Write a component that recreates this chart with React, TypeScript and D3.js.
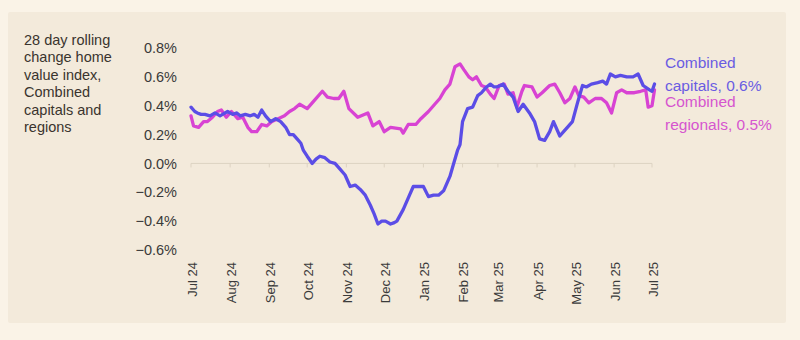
import React from "react";
import * as d3 from "d3";

const monthTicks = ["2024-07-01","2024-08-01","2024-09-01","2024-10-01","2024-11-01","2024-12-01","2025-01-01","2025-02-01","2025-03-01","2025-04-01","2025-05-01","2025-06-01","2025-07-01"];
const yTicks = [-0.6, -0.4, -0.2, 0, 0.2, 0.4, 0.6, 0.8];
const titleLines = ["28 day rolling", "change home", "value index,", "Combined", "capitals and", "regions"];

const capDates = ["2024-07-01","2024-07-04","2024-07-06","2024-07-09","2024-07-12","2024-07-16","2024-07-20","2024-07-24","2024-07-28","2024-07-30","2024-08-03","2024-08-06","2024-08-09","2024-08-13","2024-08-17","2024-08-20","2024-08-23","2024-08-26","2024-08-29","2024-09-02","2024-09-06","2024-09-10","2024-09-14","2024-09-17","2024-09-20","2024-09-23","2024-09-26","2024-09-28","2024-10-01","2024-10-05","2024-10-08","2024-10-11","2024-10-15","2024-10-19","2024-10-23","2024-10-27","2024-10-31","2024-11-04","2024-11-08","2024-11-12","2024-11-16","2024-11-20","2024-11-23","2024-11-26","2024-11-29","2024-12-02","2024-12-06","2024-12-09","2024-12-11","2024-12-16","2024-12-21","2024-12-24","2024-12-28","2025-01-01","2025-01-05","2025-01-09","2025-01-13","2025-01-17","2025-01-22","2025-01-24","2025-01-28","2025-01-30","2025-02-01","2025-02-05","2025-02-09","2025-02-13","2025-02-16","2025-02-20","2025-02-23","2025-02-26","2025-02-28","2025-03-03","2025-03-05","2025-03-09","2025-03-13","2025-03-17","2025-03-21","2025-03-26","2025-03-30","2025-04-03","2025-04-07","2025-04-11","2025-04-14","2025-04-19","2025-04-22","2025-04-25","2025-04-29","2025-05-03","2025-05-07","2025-05-10","2025-05-14","2025-05-19","2025-05-23","2025-05-26","2025-05-29","2025-06-02","2025-06-06","2025-06-11","2025-06-16","2025-06-20","2025-06-24","2025-06-29","2025-07-01","2025-07-03"];
const capValues = [0.39,0.36,0.35,0.34,0.34,0.33,0.35,0.33,0.35,0.36,0.34,0.35,0.33,0.34,0.33,0.34,0.32,0.37,0.33,0.29,0.31,0.29,0.25,0.2,0.2,0.17,0.14,0.09,0.05,0.0,0.03,0.05,0.04,0.01,0.0,-0.04,-0.08,-0.16,-0.15,-0.18,-0.22,-0.29,-0.35,-0.42,-0.4,-0.4,-0.42,-0.41,-0.4,-0.32,-0.22,-0.16,-0.16,-0.16,-0.23,-0.22,-0.22,-0.19,-0.09,-0.03,0.09,0.13,0.29,0.38,0.39,0.47,0.49,0.53,0.55,0.53,0.53,0.54,0.55,0.5,0.46,0.36,0.41,0.35,0.29,0.17,0.16,0.22,0.29,0.19,0.22,0.25,0.29,0.42,0.54,0.53,0.55,0.56,0.57,0.55,0.62,0.6,0.61,0.6,0.6,0.62,0.54,0.51,0.5,0.55];

const regDates = ["2024-07-01","2024-07-03","2024-07-07","2024-07-11","2024-07-14","2024-07-18","2024-07-22","2024-07-25","2024-07-29","2024-08-02","2024-08-07","2024-08-11","2024-08-15","2024-08-18","2024-08-22","2024-08-26","2024-08-30","2024-09-03","2024-09-08","2024-09-13","2024-09-17","2024-09-21","2024-09-25","2024-10-01","2024-10-06","2024-10-13","2024-10-17","2024-10-22","2024-10-26","2024-10-30","2024-11-03","2024-11-10","2024-11-18","2024-11-22","2024-11-27","2024-12-01","2024-12-06","2024-12-14","2024-12-16","2024-12-20","2024-12-26","2024-12-30","2025-01-05","2025-01-10","2025-01-14","2025-01-18","2025-01-22","2025-01-26","2025-01-30","2025-02-02","2025-02-06","2025-02-09","2025-02-12","2025-02-16","2025-02-19","2025-02-23","2025-02-26","2025-03-02","2025-03-06","2025-03-09","2025-03-13","2025-03-16","2025-03-20","2025-03-22","2025-03-28","2025-04-01","2025-04-05","2025-04-11","2025-04-15","2025-04-19","2025-04-23","2025-04-27","2025-05-01","2025-05-04","2025-05-08","2025-05-12","2025-05-17","2025-05-22","2025-05-26","2025-05-30","2025-06-03","2025-06-07","2025-06-11","2025-06-17","2025-06-22","2025-06-26","2025-06-28","2025-07-01","2025-07-03"];
const regValues = [0.33,0.26,0.25,0.29,0.29,0.32,0.36,0.37,0.32,0.36,0.31,0.32,0.25,0.22,0.22,0.27,0.26,0.29,0.31,0.33,0.36,0.38,0.41,0.38,0.43,0.5,0.46,0.45,0.45,0.5,0.38,0.32,0.35,0.26,0.29,0.22,0.25,0.24,0.21,0.27,0.27,0.31,0.36,0.41,0.45,0.51,0.55,0.67,0.69,0.65,0.6,0.58,0.6,0.54,0.53,0.48,0.45,0.54,0.55,0.48,0.49,0.39,0.5,0.54,0.53,0.46,0.49,0.54,0.55,0.49,0.42,0.45,0.53,0.47,0.46,0.42,0.45,0.45,0.42,0.35,0.49,0.51,0.49,0.49,0.5,0.51,0.39,0.4,0.51];

const CAP_COLOR = "#5b4de6";
const REG_COLOR = "#d843d3";

export default function App() {
  const W = 800, H = 340;
  const parse = d3.utcParse("%Y-%m-%d");
  const x = d3.scaleUtc()
    .domain([parse("2024-07-01")!, parse("2025-07-01")!])
    .range([191, 652]);
  const y = d3.scaleLinear().domain([-0.6, 0.8]).range([250, 48]);

  const cap = capDates.map((d, i) => ({ date: parse(d)!, v: capValues[i] }));
  const reg = regDates.map((d, i) => ({ date: parse(d)!, v: regValues[i] }));
  const line = d3.line<{ date: Date; v: number }>()
    .x((d) => x(d.date))
    .y((d) => y(d.v))
    .curve(d3.curveLinear);

  const font = "'Liberation Sans', Arial, sans-serif";
  const ticks = monthTicks.map((t) => parse(t)!);

  return (
    <div style={{ position: "absolute", left: 0, top: 0 }}>
      <svg width={W} height={H} style={{ display: "block" }}>
        <rect x={0} y={0} width={W} height={H} fill="#faf3e7" />
        <rect x={8} y={12} width={778} height={311} fill="#f3eadb" rx={2} />
        <g fontFamily={font} fill="#3a342e" fontSize={14.5}>
          {titleLines.map((l, i) => (
            <text key={i} x={24} y={45 + i * 17.4}>{l}</text>
          ))}
        </g>
        <g fontFamily={font} fill="#3a3a3a" fontSize={14.5} textAnchor="end">
          {yTicks.map((t) => (
            <text key={t} x={177} y={y(t)} dy="0.35em">{d3.format(".1f")(t)}%</text>
          ))}
        </g>
        <line x1={x(ticks[0])} x2={x(ticks[ticks.length - 1])} y1={y(0)} y2={y(0)} stroke="#ddd3c2" strokeWidth={1} />
        {ticks.map((t, i) => (
          <line key={i} x1={x(t)} x2={x(t)} y1={y(0)} y2={y(0) + 4} stroke="#ddd3c2" strokeWidth={1} />
        ))}
        <g fontFamily={font} fill="#3a3a3a" fontSize={13}>
          {ticks.map((t, i) => (
            <text key={i} transform={`translate(${x(t) + 1},262) rotate(-90)`} textAnchor="end" dy="0.35em">
              {d3.utcFormat("%b %y")(t)}
            </text>
          ))}
        </g>
        <path d={line(reg) || ""} fill="none" stroke={REG_COLOR} strokeWidth={3.3} strokeLinejoin="round" strokeLinecap="round" />
        <path d={line(cap) || ""} fill="none" stroke={CAP_COLOR} strokeWidth={3.3} strokeLinejoin="round" strokeLinecap="round" />
        <g fontFamily={font} fontSize={15.5}>
          <text x={665} y={63} dy="0.35em" fill="#6a5ce2">Combined</text>
          <text x={665} y={86} dy="0.35em" fill="#6a5ce2">capitals, 0.6%</text>
          <text x={665} y={102} dy="0.35em" fill="#d655cf">Combined</text>
          <text x={665} y={125} dy="0.35em" fill="#d655cf">regionals, 0.5%</text>
        </g>
      </svg>
    </div>
  );
}
